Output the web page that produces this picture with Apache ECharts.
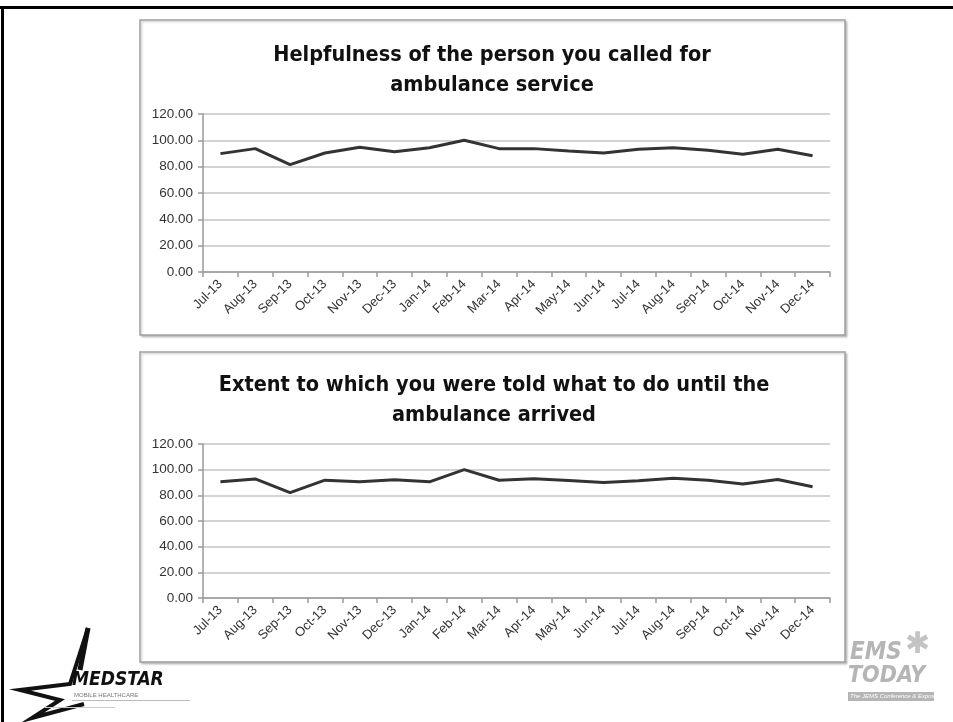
<!DOCTYPE html>
<html>
<head>
<meta charset="utf-8">
<script src="https://cdn.jsdelivr.net/npm/echarts@6/dist/echarts.min.js"></script>
<style>
  html, body { margin: 0; padding: 0; background: #fff; }
  #chart { width: 953px; height: 722px; }
</style>
</head>
<body>
<div id="chart"></div>
<script>
// months shared by both panels
const months = ['Jul-13', 'Aug-13', 'Sep-13', 'Oct-13', 'Nov-13', 'Dec-13', 'Jan-14', 'Feb-14', 'Mar-14',
  'Apr-14', 'May-14', 'Jun-14', 'Jul-14', 'Aug-14', 'Sep-14', 'Oct-14', 'Nov-14', 'Dec-14'];

const helpfulness = [89.9, 93.7, 81.5, 90.4, 94.8, 91.4, 94.4, 100.0, 93.7,
  93.7, 91.9, 90.4, 93.2, 94.4, 92.4, 89.4, 93.2, 88.3];

const toldWhatToDo = [90.5, 92.8, 82.1, 91.8, 90.5, 92.1, 90.5, 100.0, 91.8,
  92.9, 91.6, 90.0, 91.3, 93.4, 91.8, 88.8, 92.3, 86.7];

const titles = ['Helpfulness of the person you called for\nambulance service',
  'Extent to which you were told what to do until the\nambulance arrived'];

const yMin = 0, yMax = 120, yStep = 20;

const chart = echarts.init(document.getElementById('chart'));

const axisFont = 'Liberation Sans, Arial, sans-serif';
const titleFont = "'DejaVu Sans Condensed', sans-serif";

function xAxisFor(i) {
  return {
    type: 'category',
    gridIndex: i,
    data: months,
    boundaryGap: true,
    axisLine: { lineStyle: { color: '#9a9a9a', width: 1.5 } },
    axisTick: { show: true, length: 5, lineStyle: { color: '#9a9a9a', width: 1.5 } },
    axisLabel: { rotate: 45, color: '#333', fontSize: 13, fontFamily: axisFont, margin: 10, interval: 0 }
  };
}

function yAxisFor(i) {
  return {
    type: 'value',
    gridIndex: i,
    min: yMin,
    max: yMax,
    interval: yStep,
    axisLine: { show: true, lineStyle: { color: '#9a9a9a', width: 1.5 } },
    axisTick: { show: true, length: 5, lineStyle: { color: '#9a9a9a', width: 1.5 } },
    splitLine: { lineStyle: { color: '#c4c4c4', width: 1.5 } },
    axisLabel: { color: '#333', fontSize: 13.5, fontFamily: axisFont, margin: 10,
      formatter: v => v.toFixed(2) }
  };
}

function lineSeries(i, values) {
  return {
    type: 'line',
    xAxisIndex: i,
    yAxisIndex: i,
    data: values,
    symbol: 'none',
    lineStyle: { color: '#333', width: 3 },
    animation: false
  };
}

function panel(x, y, w, h) {
  return {
    type: 'rect',
    shape: { x: x, y: y, width: w, height: h },
    style: { fill: '#fff', stroke: '#a0a0a0', lineWidth: 1.5,
      shadowColor: 'rgba(0,0,0,0.2)', shadowOffsetX: 1.5, shadowOffsetY: 1.5, shadowBlur: 2 },
    z: -10
  };
}

chart.setOption({
  backgroundColor: '#fff',
  animation: false,
  title: [
    { text: titles[0], left: 487, top: 35, textAlign: 'center',
      textStyle: { fontSize: 21.5, lineHeight: 30, fontWeight: 'bold', color: '#111', fontFamily: titleFont } },
    { text: titles[1], left: 489, top: 365, textAlign: 'center',
      textStyle: { fontSize: 21.5, lineHeight: 30, fontWeight: 'bold', color: '#111', fontFamily: titleFont } }
  ],
  grid: [
    { left: 203, top: 114, width: 627, height: 158 },
    { left: 203, top: 444, width: 627, height: 154 }
  ],
  xAxis: [xAxisFor(0), xAxisFor(1)],
  yAxis: [yAxisFor(0), yAxisFor(1)],
  series: [lineSeries(0, helpfulness), lineSeries(1, toldWhatToDo)],
  graphic: [
    // slide frame
    { type: 'rect', shape: { x: 0, y: 6, width: 953, height: 3 }, style: { fill: '#000' } },
    { type: 'rect', shape: { x: 1, y: 6, width: 3, height: 716 }, style: { fill: '#000' } },
    panel(140, 20, 705, 315),
    panel(140, 352, 705, 310),
    // MedStar logo
    { type: 'polyline', shape: { points: [[88, 628], [70, 684], [20, 690], [60, 700], [32, 718], [84, 704]] },
      style: { stroke: '#111', lineWidth: 4, fill: 'none' } },
    { type: 'polyline', shape: { points: [[88, 628], [80, 670]] },
      style: { stroke: '#111', lineWidth: 5, fill: 'none' } },
    { type: 'text', style: { x: 72, y: 671, text: 'MEDSTAR', fontSize: 19, fontWeight: 'bold', fontStyle: 'italic',
      fontFamily: titleFont, fill: '#111' } },
    { type: 'text', style: { x: 74, y: 692, text: 'MOBILE HEALTHCARE', fontSize: 6, fontFamily: axisFont, fill: '#777' } },
    { type: 'rect', shape: { x: 72, y: 700, width: 118, height: 1 }, style: { fill: '#bbb' } },
    { type: 'rect', shape: { x: 45, y: 707, width: 70, height: 1 }, style: { fill: '#ccc' } },
    // EMS Today logo
    { type: 'text', style: { x: 850, y: 641, text: 'EMS', fontSize: 24, fontWeight: 'bold', fontStyle: 'italic',
      fontFamily: titleFont, fill: '#b5b5b5' } },
    { type: 'text', style: { x: 905, y: 630, text: '✱', fontSize: 30, fill: '#c4c4c4' } },
    { type: 'text', style: { x: 848, y: 665, text: 'TODAY', fontSize: 23, fontWeight: 'bold', fontStyle: 'italic',
      fontFamily: titleFont, fill: '#b5b5b5' } },
    { type: 'rect', shape: { x: 848, y: 692, width: 86, height: 9 }, style: { fill: '#b5b5b5' } },
    { type: 'text', style: { x: 850, y: 693, text: 'The JEMS Conference & Exposition', fontSize: 6,
      fontStyle: 'italic', fontFamily: axisFont, fill: '#fff' } }
  ]
});
</script>
</body>
</html>
